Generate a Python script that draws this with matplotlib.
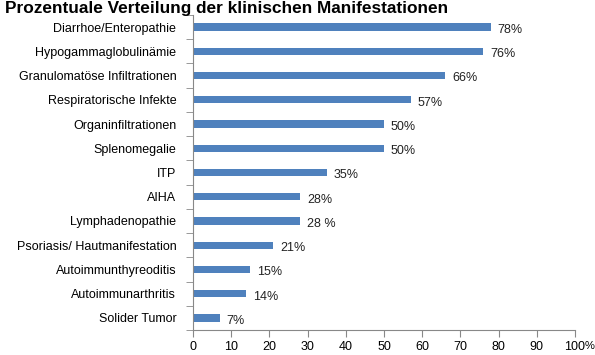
import matplotlib
matplotlib.use("Agg")
import matplotlib.pyplot as plt

categories = ["Diarrhoe/Enteropathie", "Hypogammaglobulinämie", "Granulomatöse Infiltrationen",
              "Respiratorische Infekte", "Organinfiltrationen", "Splenomegalie", "ITP", "AIHA",
              "Lymphadenopathie", "Psoriasis/ Hautmanifestation", "Autoimmunthyreoditis",
              "Autoimmunarthritis", "Solider Tumor"]
values = [78, 76, 66, 57, 50, 50, 35, 28, 28, 21, 15, 14, 7]
value_labels = ["78%", "76%", "66%", "57%", "50%", "50%", "35%", "28%", "28 %", "21%", "15%", "14%", "7%"]
xticks = [0, 10, 20, 30, 40, 50, 60, 70, 80, 90, 100]

plt.rcParams['font.family'] = ['Liberation Sans', 'DejaVu Sans']
fig = plt.figure(figsize=(5.95, 3.55), dpi=100)
ax = fig.add_axes([193/595, 1 - 330/355, (575-193)/595, (330-15)/355])

n = len(categories)
ypos = list(range(n))
ax.barh(ypos, values, height=0.3, color="#4F81BD")
for y, v, lab in zip(ypos, values, value_labels):
    ax.text(v + 1.8, y + 0.12, lab, va="center", ha="left", fontsize=9, color="#222222")

ax.set_ylim(n - 0.5, -0.5)
ax.set_xlim(0, 100)
ax.set_yticks(ypos)
ax.set_yticklabels(categories, fontsize=9)
ax.set_yticks([i + 0.5 for i in range(-1, n)], minor=True)
ax.tick_params(axis="y", which="major", length=0, pad=12)
ax.tick_params(axis="y", which="minor", length=5, color="#888888")
ax.set_xticks(xticks)
ax.set_xticklabels([str(t) for t in xticks], fontsize=9)
ax.tick_params(axis="x", length=5, color="#888888", pad=3)
for s in ["top", "right"]:
    ax.spines[s].set_visible(False)
for s in ["left", "bottom"]:
    ax.spines[s].set_color("#888888")
fig.text(585/595, 1 - 346/355, "%", fontsize=8, va="center", ha="left")
fig.text(5/595, 1 - 9/355, "Prozentuale Verteilung der klinischen Manifestationen",
         fontsize=12.4, fontweight="bold", va="center", ha="left")
fig.savefig("out.png", dpi=100)
